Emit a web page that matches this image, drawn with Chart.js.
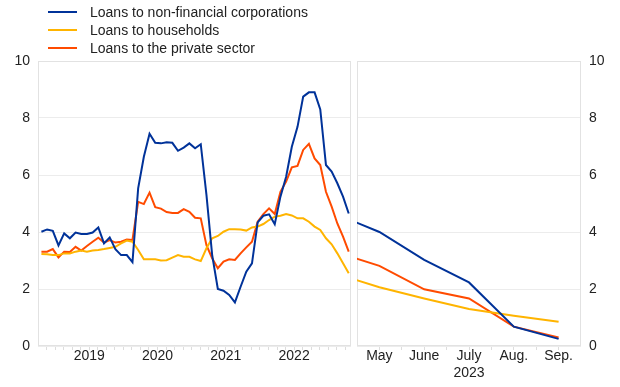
<!DOCTYPE html>
<html>
<head>
<meta charset="utf-8">
<script src="https://cdn.jsdelivr.net/npm/chart.js@4/dist/chart.umd.min.js"></script>
<style>
  body { margin: 0; background: #fff; }
  #wrap { position: relative; width: 620px; height: 387px; overflow: hidden; font-family: "Liberation Sans", Arial, sans-serif; }
  #leftChart { position: absolute; left: 0; top: 0; }
  #rightChart { position: absolute; left: 352px; top: 0; }
  #legend { position: absolute; left: 48px; top: 3px; }
  .item { height: 18px; display: flex; align-items: center; font-size: 14px; color: #222; }
  .item span.line { display: inline-block; width: 29px; height: 2px; margin-right: 13px; }
</style>
</head>
<body>
<div id="wrap">
  <canvas id="leftChart" width="356" height="387"></canvas>
  <canvas id="rightChart" width="268" height="387"></canvas>
  <div id="legend"></div>
</div>
<script>
// Mesi del pannello di sinistra (ott. 2018 - apr. 2023)
const leftMonths = [
  'Oct 2018', 'Nov 2018', 'Dec 2018',
  'Jan 2019', 'Feb 2019', 'Mar 2019', 'Apr 2019', 'May 2019', 'Jun 2019', 'Jul 2019', 'Aug 2019', 'Sep 2019', 'Oct 2019', 'Nov 2019', 'Dec 2019',
  'Jan 2020', 'Feb 2020', 'Mar 2020', 'Apr 2020', 'May 2020', 'Jun 2020', 'Jul 2020', 'Aug 2020', 'Sep 2020', 'Oct 2020', 'Nov 2020', 'Dec 2020',
  'Jan 2021', 'Feb 2021', 'Mar 2021', 'Apr 2021', 'May 2021', 'Jun 2021', 'Jul 2021', 'Aug 2021', 'Sep 2021', 'Oct 2021', 'Nov 2021', 'Dec 2021',
  'Jan 2022', 'Feb 2022', 'Mar 2022', 'Apr 2022', 'May 2022', 'Jun 2022', 'Jul 2022', 'Aug 2022', 'Sep 2022', 'Oct 2022', 'Nov 2022', 'Dec 2022',
  'Jan 2023', 'Feb 2023', 'Mar 2023', 'Apr 2023'
];
const yearLabels = ['2019', '2020', '2021', '2022'];

// Serie del pannello di sinistra
const nfcLeft = [4.01, 4.09, 4.04, 3.53, 3.95, 3.78, 3.98, 3.93, 3.93, 3.98, 4.16, 3.6, 3.81, 3.4, 3.19, 3.19, 2.94,
  5.53, 6.64, 7.45, 7.13, 7.11, 7.15, 7.13, 6.85, 6.96, 7.11, 6.94, 7.08, 5.3, 3.2,
  2.0, 1.94, 1.79, 1.53, 2.08, 2.61, 2.9, 4.34, 4.57, 4.62, 4.27, 5.24, 5.94, 6.99, 7.69, 8.75, 8.9, 8.9, 8.3, 6.35, 6.12, 5.71, 5.24, 4.65];
const hhLeft = [3.23, 3.22, 3.19, 3.19, 3.25, 3.25, 3.31, 3.35, 3.31, 3.35, 3.37, 3.4, 3.44, 3.48, 3.6, 3.7, 3.66,
  3.37, 3.04, 3.04, 3.04, 3.0, 3.01, 3.1, 3.19, 3.13, 3.13, 3.04, 2.98, 3.43, 3.78, 3.86, 4.01, 4.1,
  4.1, 4.09, 4.05, 4.16, 4.19, 4.28, 4.42, 4.54, 4.57, 4.63, 4.58, 4.48, 4.48, 4.36, 4.19, 4.07, 3.78, 3.57, 3.25, 2.9, 2.55];
const psLeft = [3.31, 3.31, 3.4, 3.11, 3.31, 3.3, 3.48, 3.35, 3.51, 3.66, 3.8, 3.63, 3.72, 3.63, 3.66, 3.74, 3.72,
  5.06, 4.98, 5.38, 4.87, 4.82, 4.7, 4.67, 4.67, 4.8, 4.71, 4.5, 4.48, 3.54, 3.08,
  2.73, 2.96, 3.04, 3.02, 3.25, 3.46, 3.66, 4.36, 4.63, 4.83, 4.63, 5.41, 5.77, 6.27, 6.32, 6.88, 7.09, 6.58, 6.35, 5.41, 4.89, 4.3, 3.84, 3.31];

// Pannello di destra (2023), aprile serve solo per il tratto tagliato a sinistra
const rightMonths = ['Apr.', 'May', 'June', 'July', 'Aug.', 'Sep.'];
const rightYear = '2023';
const nfcRight = [4.65, 4.0, 3.02, 2.23, 0.68, 0.25];
const hhRight = [2.55, 2.06, 1.67, 1.3, 1.06, 0.85];
const psRight = [3.31, 2.81, 1.99, 1.67, 0.68, 0.3];

const seriesNames = ['Loans to non-financial corporations', 'Loans to households', 'Loans to the private sector'];
const seriesColors = ['#003299', '#ffb400', '#ff4b00'];

Chart.defaults.font.family = '"Liberation Sans", Arial, sans-serif';
Chart.defaults.font.size = 14;
Chart.defaults.color = '#222';

// Riquadro grigio attorno all'area del grafico
const boxPlugin = {
  id: 'box',
  beforeDatasetsDraw(chart) {
    const a = chart.chartArea, ctx = chart.ctx;
    ctx.save();
    ctx.strokeStyle = '#e2e2e2';
    ctx.lineWidth = 1;
    ctx.strokeRect(a.left + 0.5, a.top + 0.5, a.width - 1, a.height - 1);
    ctx.restore();
  }
};

function makeDatasets(values) {
  return values.map((v, i) => ({
    label: seriesNames[i],
    data: v.map((y, x) => ({ x: x, y: y })),
    borderColor: seriesColors[i],
    backgroundColor: seriesColors[i],
    borderWidth: 2,
    pointRadius: 0,
    tension: 0,
    clip: 0
  }));
}

function yScale(pos) {
  return {
    position: pos,
    min: 0, max: 10,
    ticks: { stepSize: 2, padding: 8 },
    grid: { color: '#ececec', drawTicks: false },
    border: { display: false },
    afterFit: s => { s.width = pos === 'left' ? 38 : 39; }
  };
}

// Posizioni dei tick: etichette degli anni a metà anno, tacche ogni mese e mezzo
const yearPos = yearLabels.map(y => leftMonths.indexOf('Jan ' + y) + 5.4);
const leftTicks = [];
for (let v = 0.9; v < leftMonths.length - 0.6; v += 1.5) leftTicks.push(v);

new Chart('leftChart', {
  type: 'line',
  data: { datasets: makeDatasets([nfcLeft, hhLeft, psLeft]) },
  options: {
    responsive: false,
    devicePixelRatio: 1,
    animation: false,
    events: [],
    layout: { padding: { top: 61, right: 5, left: 0, bottom: 0 } },
    plugins: { legend: { display: false }, tooltip: { enabled: false } },
    scales: {
      x: {
        type: 'linear',
        min: -0.6, max: leftMonths.length - 0.6,
        afterBuildTicks: s => { s.ticks = leftTicks.map(v => ({ value: v })); },
        ticks: {
          autoSkip: false, maxRotation: 0, padding: -2,
          callback: v => {
            const k = yearPos.findIndex(p => Math.abs(p - v) < 0.01);
            return k >= 0 ? yearLabels[k] : '';
          }
        },
        grid: { drawOnChartArea: false, tickLength: 4, color: '#dddddd' },
        border: { display: false },
        afterFit: s => { s.height = 41; }
      },
      y: yScale('left')
    }
  },
  plugins: [boxPlugin]
});

const rightTicks = [1, 1.5, 2, 2.5, 3, 3.5, 4, 4.5, 5];

new Chart('rightChart', {
  type: 'line',
  data: { datasets: makeDatasets([nfcRight, hhRight, psRight]) },
  options: {
    responsive: false,
    devicePixelRatio: 1,
    animation: false,
    events: [],
    layout: { padding: { top: 61, right: 0, left: 5, bottom: 0 } },
    plugins: { legend: { display: false }, tooltip: { enabled: false } },
    scales: {
      x: {
        type: 'linear',
        min: 0.5, max: 5.5,
        afterBuildTicks: s => { s.ticks = rightTicks.map(v => ({ value: v })); },
        ticks: {
          autoSkip: false, maxRotation: 0, padding: -2,
          callback: v => {
            if (!Number.isInteger(v)) return '';
            return rightMonths[v] === 'July' ? [rightMonths[v], rightYear] : rightMonths[v];
          }
        },
        grid: { drawOnChartArea: false, tickLength: 4, color: '#dddddd' },
        border: { display: false },
        afterFit: s => { s.height = 41; }
      },
      y: yScale('right')
    }
  },
  plugins: [boxPlugin]
});

// Legenda in HTML, una voce per riga
let legend = document.getElementById('legend');
for (let i = 0; i < seriesNames.length; i++) {
  legend.innerHTML += `<div class="item"><span class="line" style="background:${seriesColors[i]}"></span>${seriesNames[i]}</div>`;
}
</script>
</body>
</html>
